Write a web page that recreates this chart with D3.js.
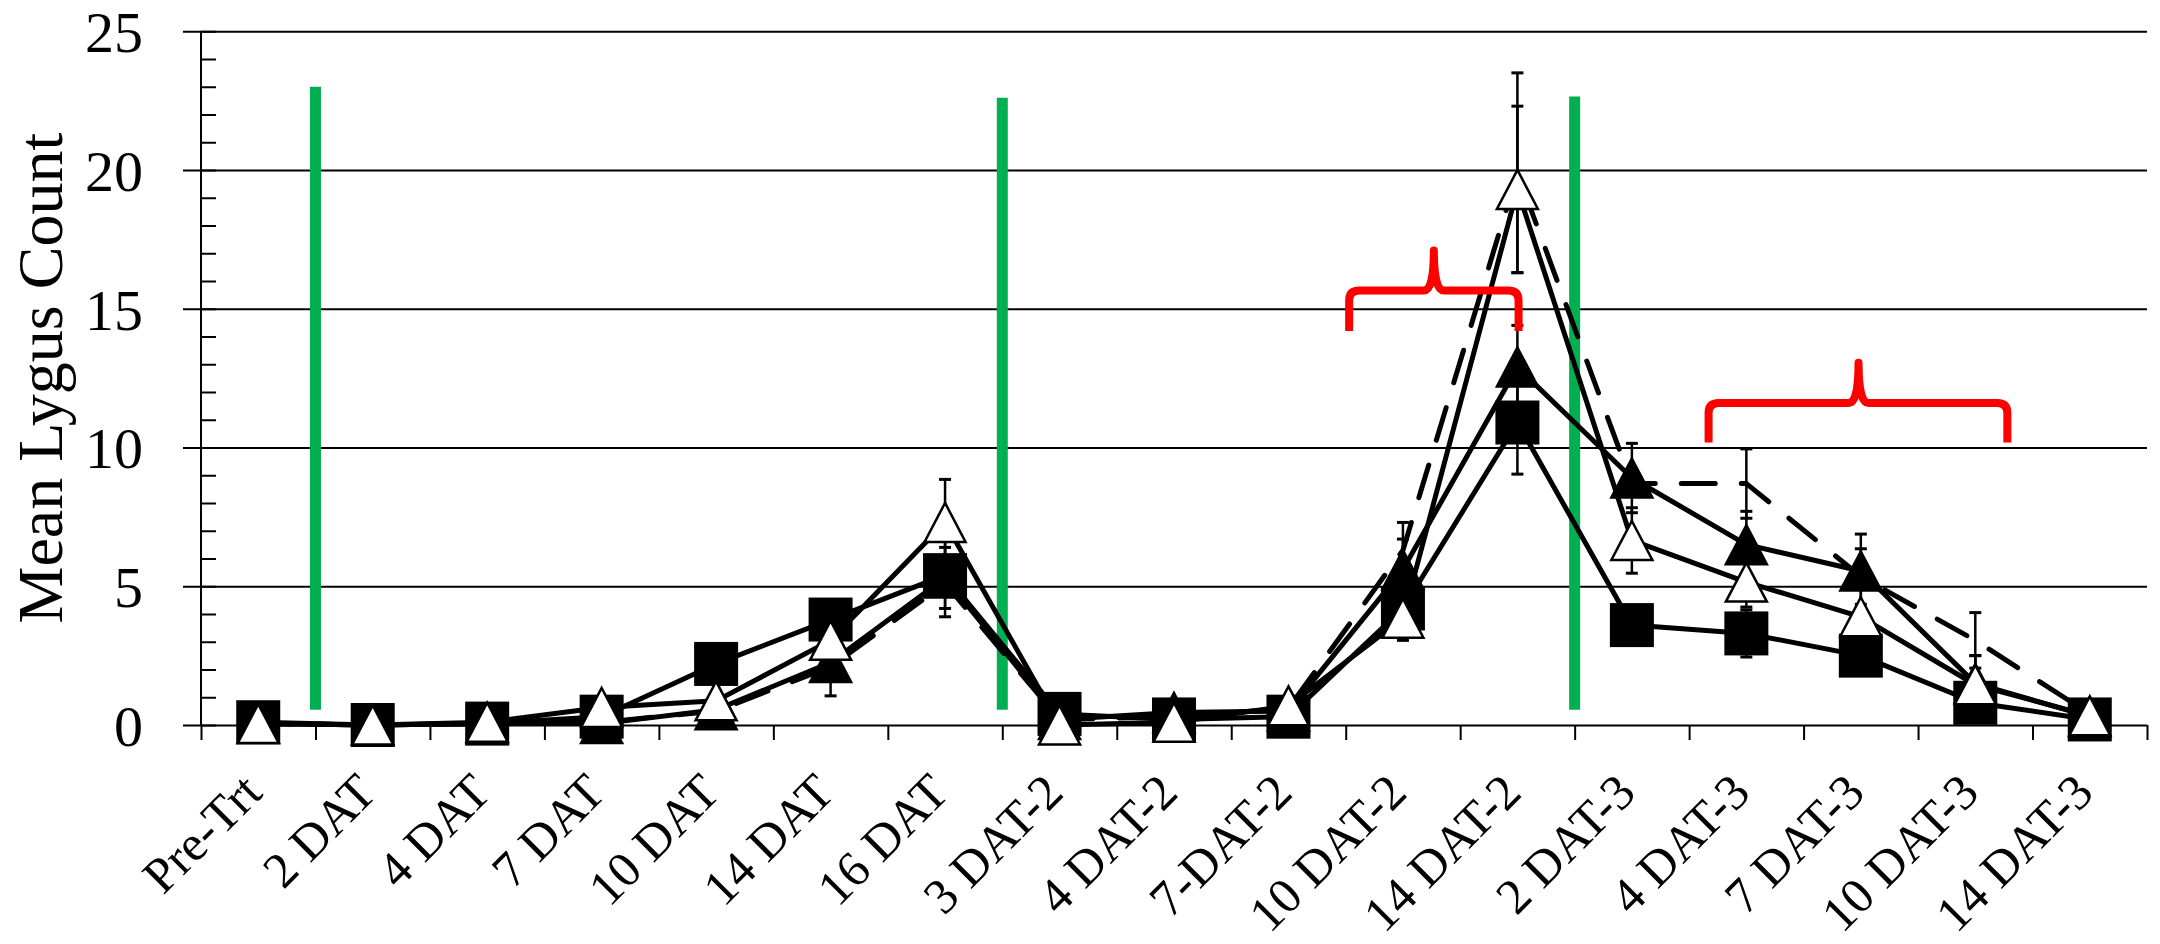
<!DOCTYPE html>
<html>
<head>
<meta charset="utf-8">
<script src="https://cdn.jsdelivr.net/npm/d3@7"></script>
<style>
  html, body { margin: 0; padding: 0; background: #fff; }
  svg { display: block; }
  text { font-family: "Liberation Serif", "Times New Roman", serif; fill: #000; }
</style>
</head>
<body>
<svg id="chart" width="2160" height="944"></svg>
<script>
// Sampling dates
const categories = ["Pre-Trt", "2 DAT", "4 DAT", "7 DAT", "10 DAT", "14 DAT", "16 DAT",
  "3 DAT-2", "4 DAT-2", "7-DAT-2", "10 DAT-2", "14 DAT-2",
  "2 DAT-3", "4 DAT-3", "7 DAT-3", "10 DAT-3", "14 DAT-3"];

// Mean Lygus counts per treatment
const squareMean    = [0.10, 0.00, 0.05, 0.30, 2.20, 3.80, 5.40, 0.40, 0.20, 0.30, 4.20, 10.90, 3.60, 3.30, 2.50, 0.80, 0.20];
const filledTriMean = [0.05, 0.00, 0.05, 0.05, 0.55, 2.25, 5.30, 0.20, 0.45, 0.50, 5.60, 12.90, 8.90, 6.50, 5.55, 1.50, 0.30];
const openTriMean   = [0.05, 0.00, 0.10, 0.63, 0.87, 3.05, 7.30, 0.00, 0.10, 0.69, 3.85, 19.30, 6.65, 5.15, 3.90, 1.45, 0.33];
const dashedMean    = [0.05, 0.00, 0.05, 0.10, 0.50, 2.10, 5.10, 0.20, 0.30, 0.60, 6.30, 19.90, 8.70, 8.70, 5.35, 3.05, 0.40];

// Standard errors (0 = no bar drawn)
const squareErr    = [0, 0, 0, 0, 0, 0, 1.50, 0, 0, 0, 0, 1.86, 0, 0.85, 0, 0, 0];
const filledTriErr = [0, 0, 0, 0, 0, 1.20, 1.10, 0, 0, 0, 1.10, 1.50, 1.25, 1.20, 1.33, 1.00, 0];
const openTriErr   = [0, 0, 0, 0, 0, 0, 1.55, 0, 0, 0, 0.80, 3.00, 1.18, 0.90, 0, 1.05, 0];
const dashedErr    = [0, 0, 0, 0, 0, 0, 0, 0, 0, 0, 1.00, 3.60, 0, 1.25, 1.00, 1.00, 0];

// Axis ticks
const yMajorTicks = [0, 5, 10, 15, 20, 25];
const yMinorTicks = d3.range(0, 26);

// Spray application markers (category boundary index, top value) and bottom value
const sprayBoundaries = [1, 7, 12];
const sprayTops = [23.0, 22.6, 22.65];
const sprayBottom = 0.55;

// Brackets: [left, spike, right] in category-boundary units; [ends, bar, spike] in count units
const bracketSpans  = [[10.03, 10.77, 11.51], [13.17, 14.48, 15.78]];
const bracketLevels = [[14.2, 15.66, 17.1], [10.18, 11.6, 13.05]];

const svg = d3.select("#chart");
svg.append("rect").attr("width", 2160).attr("height", 944).attr("fill", "#fff");

const x = d3.scaleBand().domain(categories).range([201, 2147]).padding(0);
const xb = d3.scaleLinear().domain([0, categories.length]).range(x.range());
const cx = c => x(c) + x.bandwidth() / 2;
const y = d3.scaleLinear().domain([0, 25]).range([725, 31.25]);

// Gridlines
svg.append("g")
  .attr("transform", "translate(183,0)")
  .call(d3.axisRight(y).tickValues(yMajorTicks).tickSize(2147 - 183).tickFormat(""))
  .call(g => g.select(".domain").remove())
  .call(g => g.selectAll("line").attr("stroke", "#000").attr("stroke-width", 2));

// Minor ticks inside the plot
svg.append("g")
  .attr("transform", "translate(201,0)")
  .call(d3.axisRight(y).tickValues(yMinorTicks).tickSize(15).tickFormat(""))
  .call(g => g.select(".domain").remove())
  .call(g => g.selectAll("line").attr("stroke", "#000").attr("stroke-width", 2));

// Y axis labels
svg.append("g")
  .attr("transform", "translate(201,0)")
  .call(d3.axisLeft(y).tickValues(yMajorTicks).tickSize(0).tickPadding(58))
  .call(g => g.select(".domain").remove())
  .call(g => g.selectAll("text")
    .style("font-family", '"Liberation Serif","Times New Roman",serif')
    .style("font-size", "58px").attr("fill", "#000").attr("dy", "0.35em"));

// Y axis line
svg.append("line")
  .attr("x1", 201).attr("x2", 201).attr("y1", y(25)).attr("y2", y(0))
  .attr("stroke", "#000").attr("stroke-width", 2);

// X axis boundary ticks
svg.append("g")
  .attr("transform", `translate(0,${y(0)})`)
  .call(d3.axisBottom(xb).tickValues(d3.range(0, categories.length + 1)).tickSize(15).tickFormat(""))
  .call(g => g.select(".domain").remove())
  .call(g => g.selectAll("line").attr("stroke", "#000").attr("stroke-width", 2));

// X category labels
svg.append("g").selectAll("text")
  .data(categories).join("text")
  .attr("transform", d => `translate(${cx(d) + 6},795) rotate(-45)`)
  .attr("text-anchor", "end")
  .style("font-size", "50px")
  .text(d => d);

// Y axis title
svg.append("text")
  .attr("transform", `translate(62,${(y(0) + y(25)) / 2}) rotate(-90)`)
  .attr("text-anchor", "middle")
  .style("font-size", "64px")
  .text("Mean Lygus Count");

// Spray application lines
svg.append("g").selectAll("line")
  .data(sprayBoundaries).join("line")
  .attr("x1", d => xb(d)).attr("x2", d => xb(d))
  .attr("y1", (d, i) => y(sprayTops[i])).attr("y2", y(sprayBottom))
  .attr("stroke", "#00B050").attr("stroke-width", 11);

// Treatment series
const series = [
  { mean: dashedMean, err: dashedErr, marker: "none", dash: "34,26" },
  { mean: squareMean, err: squareErr, marker: "square", dash: null },
  { mean: filledTriMean, err: filledTriErr, marker: "filledTri", dash: null },
  { mean: openTriMean, err: openTriErr, marker: "openTri", dash: null }
];

const line = d3.line().x(d => cx(d.cat)).y(d => y(d.v));
const triPath = "M0,-19.5L20.5,19.5L-20.5,19.5Z";

series.forEach(s => {
  const pts = categories.map((c, i) => ({ cat: c, v: s.mean[i], e: s.err[i] }));
  const g = svg.append("g");

  // error bars
  const eb = g.append("g").selectAll("g").data(pts.filter(p => p.e > 0)).join("g");
  eb.append("line")
    .attr("x1", p => cx(p.cat)).attr("x2", p => cx(p.cat))
    .attr("y1", p => y(p.v - p.e)).attr("y2", p => y(p.v + p.e))
    .attr("stroke", "#000").attr("stroke-width", 2.5);
  [-1, 1].forEach(sgn => {
    eb.append("line")
      .attr("x1", p => cx(p.cat) - 6).attr("x2", p => cx(p.cat) + 6)
      .attr("y1", p => y(p.v + sgn * p.e)).attr("y2", p => y(p.v + sgn * p.e))
      .attr("stroke", "#000").attr("stroke-width", 3);
  });

  // connecting line
  g.append("path")
    .datum(pts)
    .attr("d", line)
    .attr("fill", "none")
    .attr("stroke", "#000")
    .attr("stroke-width", 5)
    .attr("stroke-linejoin", "round")
    .attr("stroke-linecap", s.dash ? "round" : "butt")
    .attr("stroke-dasharray", s.dash);

  // markers
  if (s.marker === "square") {
    g.append("g").selectAll("rect").data(pts).join("rect")
      .attr("x", p => cx(p.cat) - 20.5).attr("y", p => y(p.v) - 20.5)
      .attr("width", 41).attr("height", 41)
      .attr("fill", "#000").attr("stroke", "#000").attr("stroke-width", 3);
  } else if (s.marker === "filledTri" || s.marker === "openTri") {
    g.append("g").selectAll("path").data(pts).join("path")
      .attr("transform", p => `translate(${cx(p.cat)},${y(p.v)})`)
      .attr("d", triPath)
      .attr("fill", s.marker === "filledTri" ? "#000" : "#fff")
      .attr("stroke", "#000").attr("stroke-width", 2.5);
  }
});

// Red brackets
svg.append("g").selectAll("path")
  .data(bracketSpans.map((sp, i) => ({ sp, lv: bracketLevels[i] })))
  .join("path")
  .attr("d", d => {
    const xl = xb(d.sp[0]), xm = xb(d.sp[1]), xr = xb(d.sp[2]);
    const ye = y(d.lv[0]), yb = y(d.lv[1]), ys = y(d.lv[2]);
    const r = 10;
    return `M${xl},${ye}L${xl},${yb + r}Q${xl},${yb} ${xl + r},${yb}` +
      `L${xm - r},${yb}Q${xm},${yb} ${xm},${ys}` +
      `Q${xm},${yb} ${xm + r},${yb}L${xr - r},${yb}Q${xr},${yb} ${xr},${yb + r}L${xr},${ye}`;
  })
  .attr("fill", "none")
  .attr("stroke", "#FF0000")
  .attr("stroke-width", 8)
  .attr("stroke-linejoin", "round");
</script>
</body>
</html>
